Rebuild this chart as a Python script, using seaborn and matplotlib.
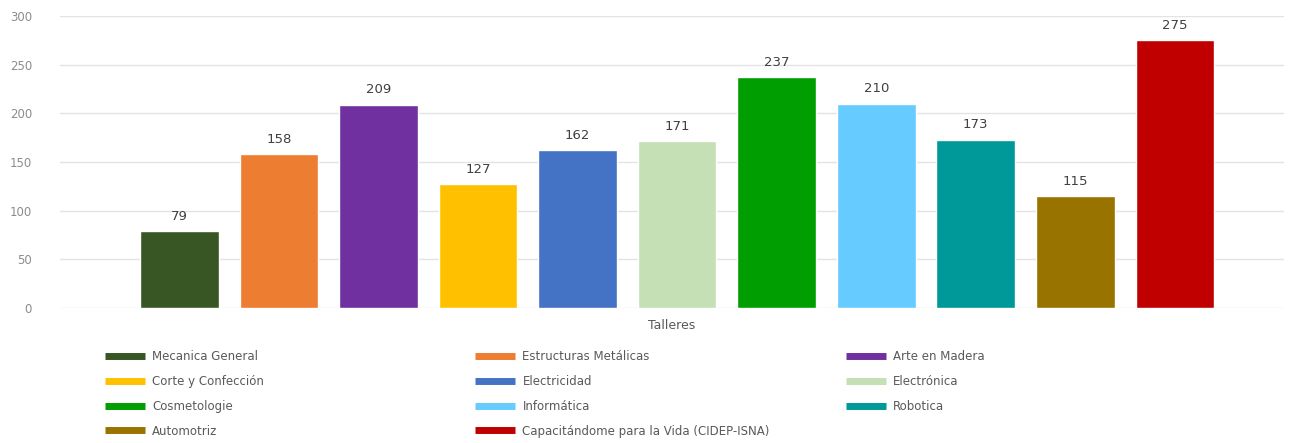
import pandas as pd
import seaborn as sns
import matplotlib.pyplot as plt
from matplotlib.lines import Line2D

# Talleres data
talleres = ["Mecanica General", "Estructuras Metálicas", "Arte en Madera",
            "Corte y Confección", "Electricidad", "Electrónica",
            "Cosmetologie", "Informática", "Robotica",
            "Automotriz", "Capacitándome para la Vida (CIDEP-ISNA)"]
participantes = [79, 158, 209, 127, 162, 171, 237, 210, 173, 115, 275]
colores = ["#375623", "#ED7D31", "#7030A0", "#FFC000", "#4472C4", "#C5E0B4",
           "#009E00", "#66CCFF", "#009999", "#997300", "#C00000"]

df = pd.DataFrame({"taller": talleres, "n": participantes})

sns.set_style("white")
gris = "#595959"

fig = plt.figure(figsize=(13, 4.43), dpi=100)
ax = fig.add_axes([0.046, 0.305, 0.942, 0.659])
sns.barplot(data=df, x="taller", y="n", hue="taller", palette=colores,
            dodge=False, legend=False, width=0.79, saturation=1, ax=ax)

for c in ax.containers:
    ax.bar_label(c, padding=6, fontsize=9.5, color="#404040")

ax.set_ylim(0, 300)
ax.set_yticks(range(0, 301, 50))
ax.set_xlim(-1.2, 11.1)
ax.set_xticks([])
ax.yaxis.grid(True, color="#E3E3E3", linewidth=1)
ax.set_axisbelow(True)
for s in ax.spines.values():
    s.set_visible(False)
ax.tick_params(axis="y", labelsize=8.5, labelcolor="#8C8C8C", length=0, pad=20)
ax.set_ylabel("")
ax.set_xlabel("Talleres", fontsize=9, color=gris, labelpad=8)

# three legend columns, filled row by row like the original
handles = [Line2D([0], [0], color=col, lw=5, solid_capstyle="butt") for col in colores]
xs = [0.076, 0.361, 0.646]
for j in range(3):
    idx = list(range(j, len(talleres), 3))
    leg = fig.legend([handles[i] for i in idx], [talleres[i] for i in idx],
                     loc="upper left", bbox_to_anchor=(xs[j], 0.223),
                     frameon=False, fontsize=8.5, handlelength=3.4,
                     handletextpad=0.6, labelspacing=1.0, borderpad=0)
    for t in leg.get_texts():
        t.set_color(gris)

plt.savefig("out.png", dpi=100)
